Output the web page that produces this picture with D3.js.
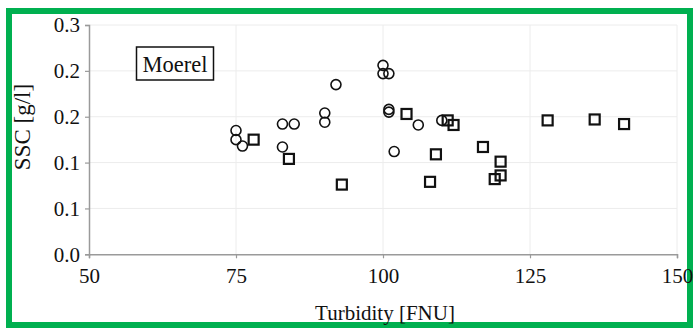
<!DOCTYPE html>
<html>
<head>
<meta charset="utf-8">
<script src="https://cdn.jsdelivr.net/npm/d3@7"></script>
<style>
  html, body { margin: 0; padding: 0; background: #fff; }
  svg { display: block; }
  text { font-family: "Liberation Serif", "Times New Roman", serif; fill: #111; }
</style>
</head>
<body>
<svg id="chart" width="695" height="329"></svg>
<script>
// ---- data ----
const circleTurbidity = [75.0, 75.0, 76.1, 82.9, 84.9, 82.9, 90.1, 90.1, 92.0, 100.0, 100.0, 101.0, 101.0, 101.0, 106.0, 110.0, 101.9];
const circleSSC       = [0.135, 0.125, 0.118, 0.142, 0.142, 0.117, 0.154, 0.144, 0.185, 0.206, 0.197, 0.197, 0.158, 0.155, 0.141, 0.146, 0.112];

const squareTurbidity = [78.0, 84.0, 93.0, 104.0, 111.0, 112.0, 109.0, 117.0, 120.0, 108.0, 119.0, 120.0, 128.0, 136.0, 141.0];
const squareSSC       = [0.125, 0.104, 0.076, 0.153, 0.146, 0.141, 0.109, 0.117, 0.101, 0.079, 0.082, 0.086, 0.146, 0.147, 0.142];

const xTickValues = [50, 75, 100, 125, 150];
const xTickLabels = ["50", "75", "100", "125", "150"];
const yTickValues = [0, 0.05, 0.10, 0.15, 0.20, 0.25];
const yTickLabels = ["0.0", "0.1", "0.1", "0.2", "0.2", "0.3"];

const xTitle = "Turbidity [FNU]";
const yTitle = "SSC [g/l]";
const legendText = "Moerel";

// ---- layout ----
const svg = d3.select("#chart");
const mLeft = 89, mRight = 677, mTop = 25, mBottom = 254.3;

const x = d3.scaleLinear().domain([50, 150]).range([mLeft, mRight]);
const y = d3.scaleLinear().domain([0, 0.25]).range([mBottom, mTop]);

// green frame
svg.append("rect")
  .attr("x", 9).attr("y", 11).attr("width", 681).attr("height", 314)
  .attr("fill", "none").attr("stroke", "#00B050").attr("stroke-width", 6);

// gridlines
const grid = svg.append("g");
grid.selectAll("line.h").data(yTickValues.slice(1)).enter().append("line")
  .attr("x1", mLeft).attr("x2", mRight)
  .attr("y1", d => y(d)).attr("y2", d => y(d))
  .attr("stroke", "#ececec").attr("stroke-width", 1);
grid.selectAll("line.v").data(xTickValues.slice(1)).enter().append("line")
  .attr("y1", mTop).attr("y2", mBottom)
  .attr("x1", d => x(d)).attr("x2", d => x(d))
  .attr("stroke", "#ececec").attr("stroke-width", 1);

// axes
const xAxis = d3.axisBottom(x).tickValues(xTickValues)
  .tickFormat((d, i) => xTickLabels[i]).tickSize(4).tickPadding(10);
const yAxis = d3.axisLeft(y).tickValues(yTickValues)
  .tickFormat((d, i) => yTickLabels[i]).tickSize(4).tickPadding(5);

const gx = svg.append("g").attr("transform", `translate(0,${mBottom})`).call(xAxis);
const gy = svg.append("g").attr("transform", `translate(${mLeft},0)`).call(yAxis);

[gx, gy].forEach(g => {
  g.select(".domain").attr("stroke", "#9a9a9a").attr("stroke-width", 1.5);
  g.selectAll(".tick line").attr("stroke", "#9a9a9a").attr("stroke-width", 1.2);
  g.selectAll(".tick text")
    .style("font-family", '"Liberation Serif", "Times New Roman", serif')
    .style("font-size", "21px").attr("fill", "#111");
});
gy.selectAll(".tick text").attr("dy", "0.33em");

// axis titles
svg.append("text")
  .attr("x", (mLeft + mRight) / 2 + 2).attr("y", 320)
  .attr("text-anchor", "middle").style("font-size", "21px")
  .text(xTitle);
svg.append("text")
  .attr("transform", `translate(30,127) rotate(-90)`)
  .attr("text-anchor", "middle").style("font-size", "23px")
  .text(yTitle);

// legend label box
const lg = svg.append("g");
lg.append("rect").attr("x", 136.5).attr("y", 47).attr("width", 77).attr("height", 33)
  .attr("fill", "#fff").attr("stroke", "#111").attr("stroke-width", 1.5);
lg.append("text").attr("x", 175).attr("y", 71.5).attr("text-anchor", "middle")
  .style("font-size", "22.5px").text(legendText);

// points
const circles = circleTurbidity.map((t, i) => ({ t, s: circleSSC[i] }));
const squares = squareTurbidity.map((t, i) => ({ t, s: squareSSC[i] }));

svg.append("g").selectAll("circle").data(circles).enter().append("circle")
  .attr("cx", d => x(d.t)).attr("cy", d => y(d.s)).attr("r", 5)
  .attr("fill", "none").attr("stroke", "#111").attr("stroke-width", 1.6);

const sz = 10;
svg.append("g").selectAll("rect").data(squares).enter().append("rect")
  .attr("x", d => x(d.t) - sz / 2).attr("y", d => y(d.s) - sz / 2)
  .attr("width", sz).attr("height", sz)
  .attr("fill", "none").attr("stroke", "#111").attr("stroke-width", 2.2);
</script>
</body>
</html>
